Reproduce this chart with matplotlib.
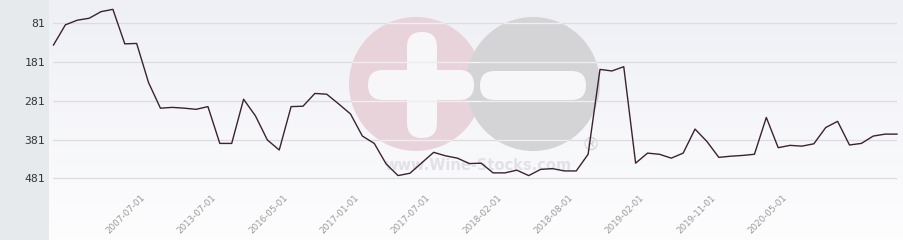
import numpy as np
import matplotlib
matplotlib.use("Agg")
import matplotlib.pyplot as plt
from matplotlib.patches import Circle, FancyBboxPatch
import matplotlib.transforms as mtransforms

# ranking values, one point per category
ranks = [137, 85, 73, 68, 51, 45, 134, 133, 234, 300,
         298, 300, 303, 296, 391, 391, 277, 320, 382, 408,
         296, 295, 262, 264, 289, 315, 372, 391, 444, 474,
         468, 441, 414, 423, 429, 443, 442, 467, 467, 460,
         474, 458, 456, 462, 462, 419, 200, 204, 193, 442,
         416, 419, 429, 416, 354, 386, 427, 424, 422, 419,
         324, 402, 396, 398, 392, 350, 334, 395, 391, 372,
         367, 367]
tick_idx = [8, 14, 20, 26, 32, 38, 44, 50, 56, 62]
tick_labels = ["2007-07-01", "2013-07-01", "2016-05-01", "2017-01-01",
               "2017-07-01", "2018-02-01", "2018-08-01", "2019-02-01",
               "2019-11-01", "2020-05-01"]
y_ticks = [81, 181, 281, 381, 481]

W, H = 904, 240
fig = plt.figure(figsize=(W / 100, H / 100), dpi=100)
fig.patch.set_facecolor("white")

# background: grey panel on the left, soft gradient behind the plot
bg = fig.add_axes([0, 0, 1, 1], zorder=-10)
bg.set_xlim(0, W)
bg.set_ylim(H, 0)
bg.axis("off")
grad = np.linspace(0, 1, 240).reshape(-1, 1)
top = np.array([0xef, 0xf0, 0xf5]) / 255
bot = np.array([0xfd, 0xfd, 0xfe]) / 255
img = top + (bot - top) * grad[..., None]
img = np.repeat(img, 2, axis=1)
bg.imshow(img, extent=[49, W, H, 0], aspect="auto")
bg.add_patch(plt.Rectangle((0, 0), 49, H, color="#e7eaed", lw=0))

# watermark (pixel coords on the background axes)
pink = Circle((416, 84), 67, color="#e9d3da", lw=0, zorder=1)
grey = Circle((533, 84), 67, color="#d4d4d7", lw=0, zorder=2)
bg.add_patch(pink)
bg.add_patch(grey)
for (bx, by, bw, bh) in [(368, 70, 106, 30), (407, 32, 30, 106), (480, 71, 106, 29)]:
    r = min(bw, bh) / 2
    bg.add_patch(FancyBboxPatch((bx + r, by + r), bw - 2 * r, bh - 2 * r,
                                boxstyle=f"round,pad={r}", color="#f7f7f9",
                                lw=0, zorder=3))
bg.text(478, 166, "www.Wine-Stocks.com", ha="center", va="center",
        fontsize=10.5, fontweight="bold", color="#e2e2e6", zorder=3)
bg.text(591, 145, "®", ha="center", va="center", fontsize=13,
        color="#d2d2d5", zorder=3)

# plot area in pixels
x0, x1 = 53.5, 897.0
py0, py1 = 0.0, 200.0          # pixel rows covered by the axes
y81, y481 = 23.3, 178.3
upp = (481 - 81) / (y481 - y81)
ax = fig.add_axes([x0 / W, 1 - py1 / H, (x1 - x0) / W, (py1 - py0) / H])
ax.set_facecolor("none")
ax.set_xlim(0, len(ranks) - 1)
ax.set_ylim(81 + (py1 - y81) * upp, 81 - (y81 - py0) * upp)

for s in ax.spines.values():
    s.set_visible(False)
ax.tick_params(length=0)

# grid lines, lighter where they cross the watermark
for v in y_ticks:
    ax.axhline(v, color="#dcdcdf", lw=0.9, zorder=1)
    for c in (pink, grey):
        hl = ax.axhline(v, color="white", alpha=0.55, lw=0.9, zorder=1.5)
        hl.set_clip_path(c)

ax.plot(range(len(ranks)), ranks, color="#3b2230", lw=1.0, zorder=3,
        clip_on=False)

ax.set_yticks(y_ticks)
ax.set_yticklabels([str(v) for v in y_ticks], family="DejaVu Sans Mono",
                   fontsize=8.2, color="#333333")
ax.tick_params(axis="y", pad=6)

ax.set_xticks(tick_idx)
ax.set_xticklabels(tick_labels, rotation=45, ha="right",
                   rotation_mode="anchor", fontsize=6.3, color="#999999")
offset = mtransforms.ScaledTranslation(-8 / 100, 12 / 100, fig.dpi_scale_trans)
for lab in ax.get_xticklabels():
    lab.set_transform(lab.get_transform() + offset)

fig.savefig("out.png", dpi=100)
